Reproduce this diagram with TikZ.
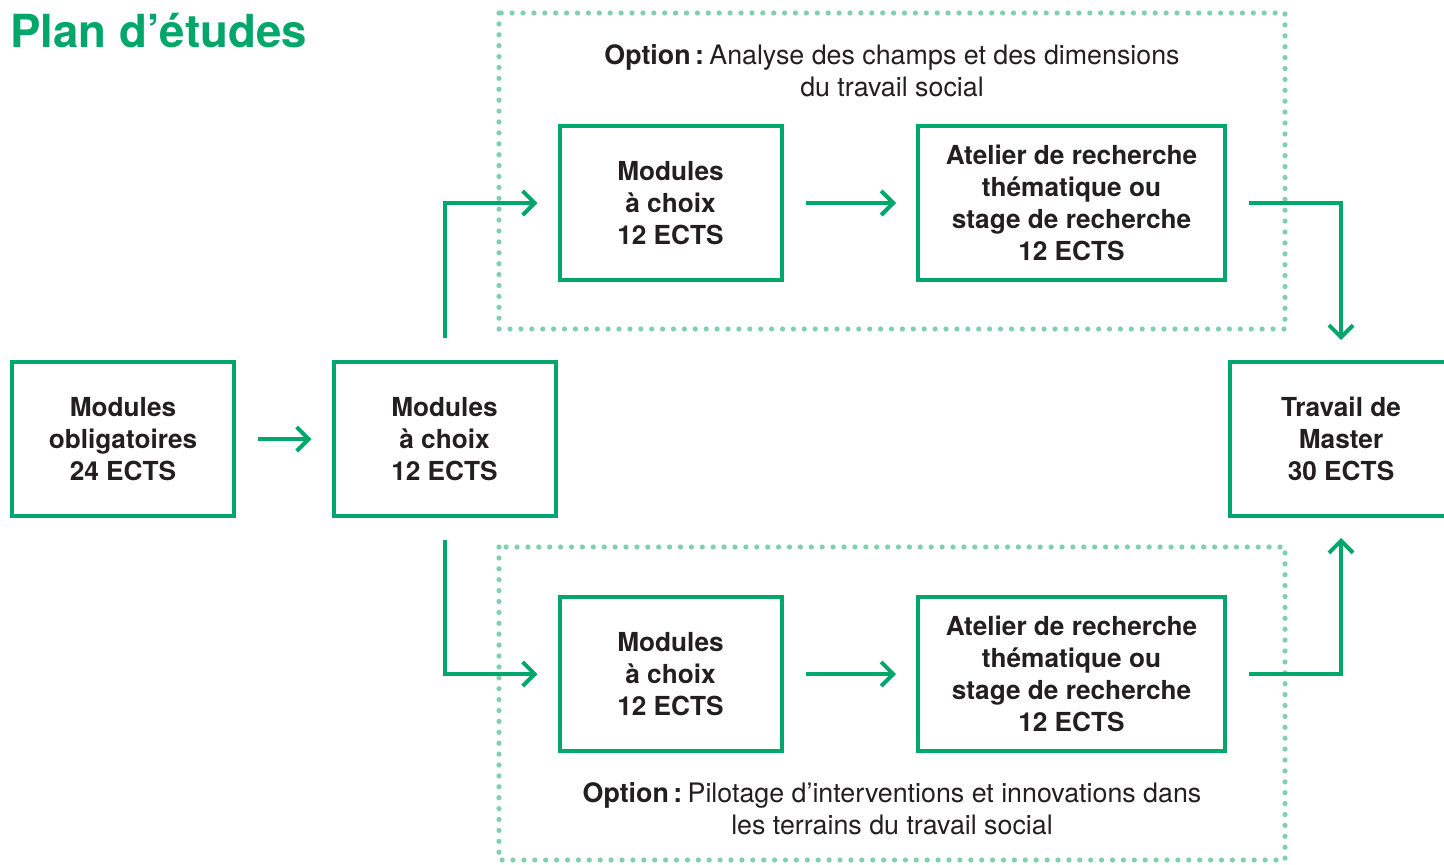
\documentclass[tikz,border=0pt]{standalone}
\usepackage{fontspec}
\setmainfont{TeX Gyre Heros}
\usetikzlibrary{arrows.meta}
\definecolor{vert}{RGB}{0,166,106}
\definecolor{vertclair}{RGB}{128,208,176}
\definecolor{texte}{RGB}{35,31,32}
\tikzset{
  boite/.style={draw=vert, line width=2pt, rectangle, minimum width=111pt, minimum height=77pt,
    align=center, text=texte, font=\fontsize{13.1}{16}\selectfont\bfseries, inner sep=0pt},
  grande/.style={boite, minimum width=153.5pt},
  fleche/.style={draw=vert, line width=2pt, -{Straight Barb[length=6pt,width=12pt,line width=2pt]},
    shorten <=11pt, shorten >=10pt},
  pointille/.style={draw=vertclair, line width=2.6pt, line cap=round, dash pattern=on 0pt off 5.45pt},
  option/.style={align=center, text=texte, font=\fontsize{13.4}{16}\selectfont, inner sep=0pt}
}
\begin{document}
\begin{tikzpicture}[x=0.5pt,y=-0.5pt]
\useasboundingbox (0,0) rectangle (1444,864);
% frames
\draw[pointille] (499,13) rectangle (1285,329);
\draw[pointille] (499,547) rectangle (1285,860);
% title
\node[anchor=base west, inner sep=0pt, text=vert, font=\fontsize{22.8}{28}\selectfont\bfseries] (titre) at (10,47) {Plan d’études};
% options
\node[option] (opt1) at (892,71) {\textbf{Option\,:}\hspace{0.2em}Analyse des champs et des dimensions\\du travail social};
\node[option] (opt2) at (892,809) {\textbf{Option\,:}\hspace{0.2em}Pilotage d’interventions et innovations dans\\les terrains du travail social};
% boxes
\node[boite] (b1) at (123,439) {Modules\\obligatoires\\24 ECTS};
\node[boite] (b2) at (444.5,439) {Modules\\à choix\\12 ECTS};
\node[boite] (m1) at (670.5,203) {Modules\\à choix\\12 ECTS};
\node[grande] (a1) at (1071.5,203) {Atelier de recherche\\thématique ou\\stage de recherche\\12 ECTS};
\node[boite] (m2) at (670.5,674) {Modules\\à choix\\12 ECTS};
\node[grande] (a2) at (1071.5,674) {Atelier de recherche\\thématique ou\\stage de recherche\\12 ECTS};
\node[boite] (tm) at (1341,439) {Travail de\\Master\\30 ECTS};
% arrows
\draw[fleche] (b1.east) -- (b2.west);
\draw[fleche] (b2.north) |- (m1.west);
\draw[fleche] (b2.south) |- (m2.west);
\draw[fleche] (m1.east) -- (a1.west);
\draw[fleche] (m2.east) -- (a2.west);
\draw[fleche] (a1.east) -| (tm.north);
\draw[fleche] (a2.east) -| (tm.south);
\end{tikzpicture}
\end{document}
